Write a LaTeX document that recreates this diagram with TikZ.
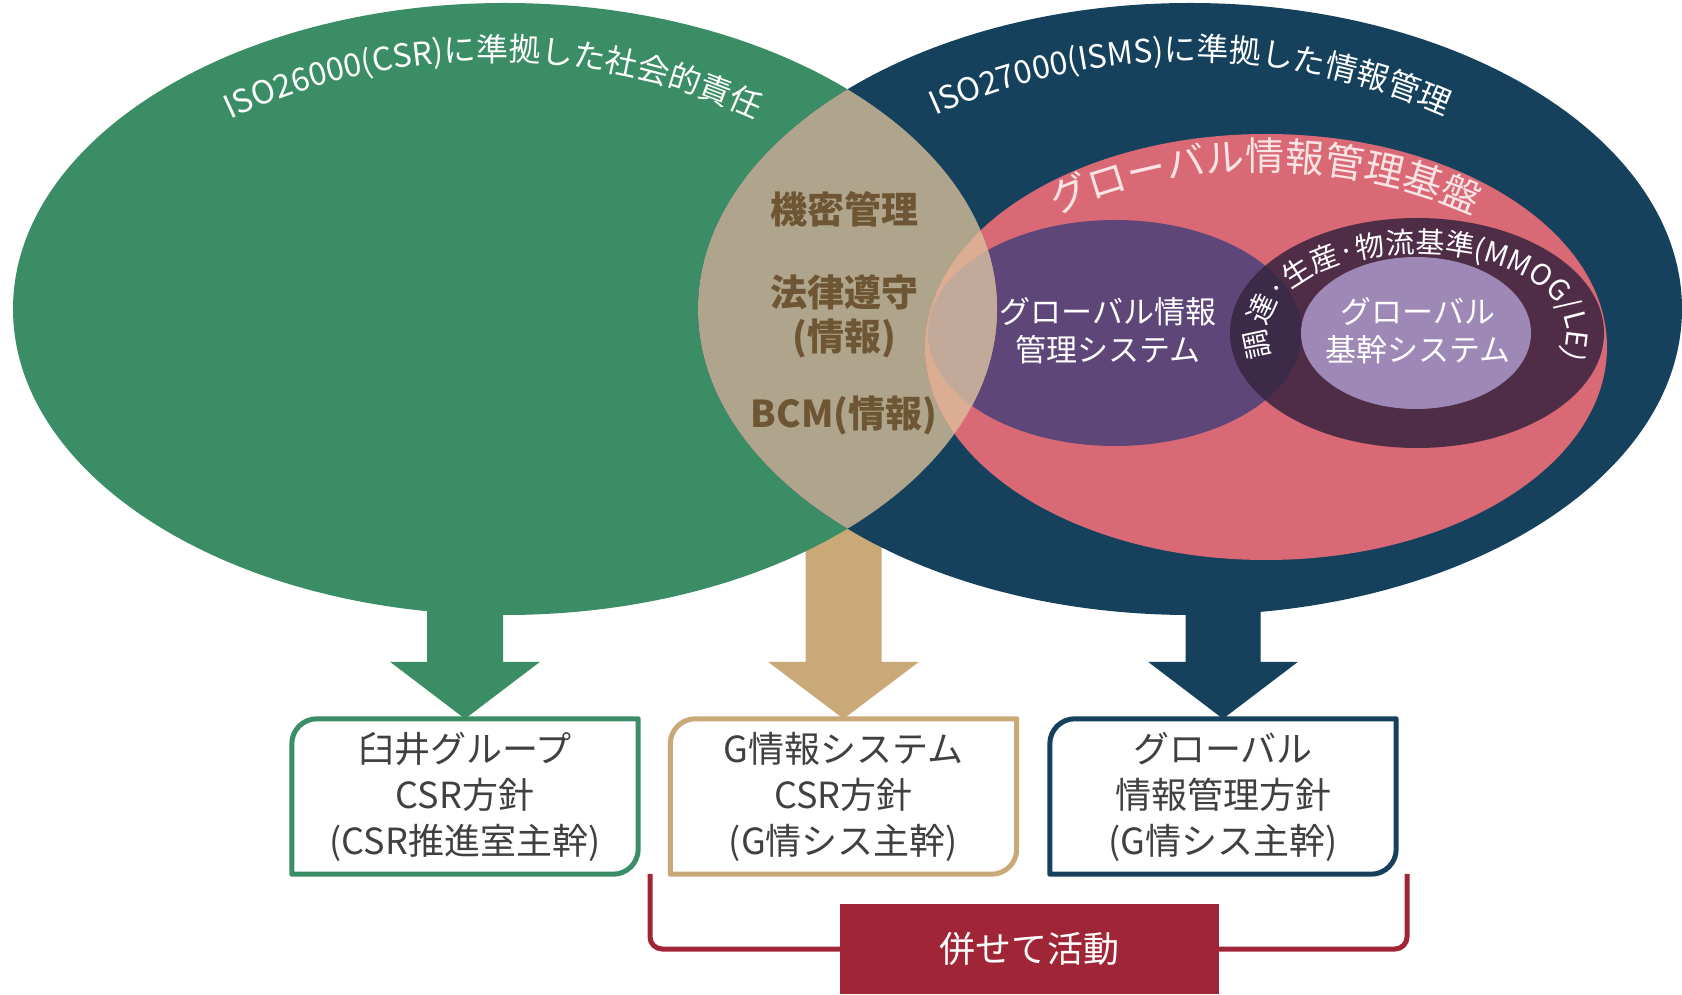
\documentclass[tikz,border=0pt]{standalone}
\usepackage{fontspec}
\setmainfont{Noto Sans CJK JP}
\usetikzlibrary{decorations.text,calc}
\definecolor{cgreen}{HTML}{3B8D66}
\definecolor{cnavy}{HTML}{15415C}
\definecolor{clens}{HTML}{AFA58C}
\definecolor{ctan}{HTML}{C9A977}
\definecolor{cpink}{HTML}{D96A75}
\definecolor{cpurple}{HTML}{5E4778}
\definecolor{cdark}{HTML}{4F2D47}
\definecolor{coverlap}{HTML}{3B2A48}
\definecolor{clight}{HTML}{9E88B6}
\definecolor{cpeach}{HTML}{DBAE93}
\definecolor{cpurlens}{HTML}{C2A99A}
\definecolor{cbrown}{HTML}{6E5533}
\definecolor{cboxtxt}{HTML}{404040}
\definecolor{cred}{HTML}{A02536}
\definecolor{cpinktxt}{HTML}{FBE3E6}
\tikzset{
  boxn/.style={minimum width=346pt, minimum height=155pt, inner sep=0pt, align=center,
    text=cboxtxt, font=\fontsize{36}{46}\selectfont},
  boxline/.style={line width=5pt, line join=round},
  lenstxt/.style={text=cbrown, font=\bfseries\fontsize{37}{44}\selectfont, inner sep=0pt},
  wtxt/.style={text=white, font=\fontsize{31}{38}\selectfont, align=center, inner sep=0pt},
  redbox/.style={fill=cred, minimum width=379pt, minimum height=90pt, inner sep=0pt,
    text=white, font=\fontsize{36}{44}\selectfont},
  brk/.style={draw=cred, line width=5pt, rounded corners=12pt}
}
\begin{document}
\begin{tikzpicture}[x=1pt,y=1pt]
\useasboundingbox (0,0) rectangle (1682,994);
\fill[white] (0,0) rectangle (1682,994);

% boxes (nodes)
\node[boxn] (b1) at (465,197.5) {臼井グループ\\CSR方針\\(CSR推進室主幹)};
\node[boxn] (b2) at (843.5,197.5) {G情報システム\\CSR方針\\(G情シス主幹)};
\node[boxn] (b3) at (1223,197.5) {グローバル\\情報管理方針\\(G情シス主幹)};

% box borders
\draw[boxline, draw=cgreen] (b1.north east) -- ([xshift=25pt]b1.north west) arc[start angle=90,end angle=180,radius=25pt] -- (b1.south west) -- ([xshift=-25pt]b1.south east) arc[start angle=270,end angle=360,radius=25pt] -- cycle;
\draw[boxline, draw=ctan] (b2.north east) -- ([xshift=25pt]b2.north west) arc[start angle=90,end angle=180,radius=25pt] -- (b2.south west) -- ([xshift=-25pt]b2.south east) arc[start angle=270,end angle=360,radius=25pt] -- cycle;
\draw[boxline, draw=cnavy] (b3.north east) -- ([xshift=25pt]b3.north west) arc[start angle=90,end angle=180,radius=25pt] -- (b3.south west) -- ([xshift=-25pt]b3.south east) arc[start angle=270,end angle=360,radius=25pt] -- cycle;

% block arrows (behind the ellipses)
\fill[cgreen] (b1.north) -- ++(-75,57) -- ++(37,0) -- ++(0,102) -- ++(76,0) -- ++(0,-102) -- ++(37,0) -- cycle;
\fill[ctan] (b2.north) -- ++(-75.5,57) -- ++(37.5,0) -- ++(0,142) -- ++(76,0) -- ++(0,-142) -- ++(37.5,0) -- cycle;
\fill[cnavy] (b3.north) -- ++(-75,57) -- ++(37.5,0) -- ++(0,102) -- ++(75,0) -- ++(0,-102) -- ++(37.5,0) -- cycle;

% big ellipses
\fill[cgreen] (505,685) ellipse[x radius=492pt, y radius=306pt];
\fill[cnavy] (1190,685) ellipse[x radius=492pt, y radius=306pt];
\begin{scope}
  \clip (505,685) ellipse[x radius=492pt, y radius=306pt];
  \fill[clens] (1190,685) ellipse[x radius=492pt, y radius=306pt];
\end{scope}

% inner ellipses
\fill[cpink] (1266,647) ellipse[x radius=341pt, y radius=213pt];
\fill[cpurple] (1115,661) ellipse[x radius=187pt, y radius=113pt];
\fill[cdark] (1417,661) ellipse[x radius=187pt, y radius=115pt];
\begin{scope}
  \clip (1115,661) ellipse[x radius=187pt, y radius=113pt];
  \fill[coverlap] (1417,661) ellipse[x radius=187pt, y radius=115pt];
\end{scope}
\fill[clight] (1416,661) ellipse[x radius=115pt, y radius=76pt];
\begin{scope}
  \clip (505,685) ellipse[x radius=492pt, y radius=306pt];
  \fill[cpeach] (1266,647) ellipse[x radius=341pt, y radius=213pt];
  \fill[cpurlens] (1115,661) ellipse[x radius=187pt, y radius=113pt];
\end{scope}

% curved titles
\path[decorate, decoration={text along path, text align=center, text color=white,
  text={|\fontsize{32}{38}\selectfont|ISO26000(CSR)に準拠した社会的責任}}]
  (493,313) ++(130:620pt) arc[start angle=130, end angle=50, radius=620pt];
\path[decorate, decoration={text along path, text align=center, text color=white,
  text={|\fontsize{32}{38}\selectfont|ISO27000(ISMS)に準拠した情報管理}}]
  (1190,313) ++(130:620pt) arc[start angle=130, end angle=50, radius=620pt];
\path[decorate, decoration={text along path, text align=center, text color=cpinktxt,
  text={|\fontsize{39}{44}\selectfont|グローバル情報管理基盤}}]
  (1265,308) ++(128:515pt) arc[start angle=128, end angle=52, radius=515pt];
\path[decorate, decoration={text along path, text align=center, text color=white,
  text={|\fontsize{29}{34}\selectfont|調達·生産·物流基準(MMOG/LE)}}]
  (1417,661) ++(205:150pt and 80pt) arc[start angle=205, end angle=-25, x radius=150pt, y radius=80pt];

% lens texts
\node[lenstxt] (l1) at (844,785) {機密管理};
\node[lenstxt] (l2) at (844,702) {法律遵守};
\node[lenstxt] (l3) at (844,656) {(情報)};
\node[lenstxt] (l4) at (844,579) {BCM(情報)};

% inner ellipse texts
\node[wtxt] (s1) at (1108,663) {グローバル情報\\管理システム};
\node[wtxt] (s2) at (1418,663) {グローバル\\基幹システム};

% bracket and action box
\coordinate (bl) at (650,120);
\coordinate (br) at (1407,120);
\draw[brk] (bl) -- (650,45) -- (1407,45) -- (br);
\node[redbox] (act) at (1029.5,45) {\raisebox{-4pt}{併せて活動}};
\end{tikzpicture}
\end{document}
